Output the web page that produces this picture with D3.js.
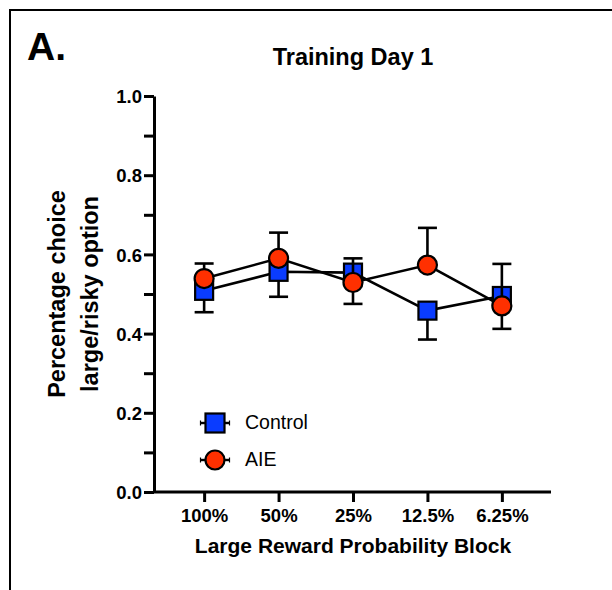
<!DOCTYPE html>
<html>
<head>
<meta charset="utf-8">
<script src="https://cdn.jsdelivr.net/npm/d3@7"></script>
<style>
  html, body { margin: 0; padding: 0; background: #fff; }
  svg { display: block; font-family: "Liberation Sans", Arial, Helvetica, sans-serif; }
</style>
</head>
<body>
<svg id="chart" width="612" height="590"></svg>
<script>
// Probability blocks on the x axis
const blocks = ["100%", "50%", "25%", "12.5%", "6.25%"];

// Mean proportion of large/risky choices per block
const controlMeans = [0.508, 0.556, 0.554, 0.458, 0.495];
const aieMeans     = [0.539, 0.590, 0.529, 0.573, 0.470];

// SEM (Control drawn below its mean, AIE drawn above)
const controlSem = [0.054, 0.063, 0.079, 0.073, 0.083];
const aieSem     = [0.038, 0.065, 0.061, 0.094, 0.106];

// Axis ticks
const yMajorTicks = [0, 0.2, 0.4, 0.6, 0.8, 1.0];
const yMinorTicks = [0.1, 0.3, 0.5, 0.7, 0.9];

const series = [
  { name: "Control", means: controlMeans, sem: controlSem, dir: 1,  shape: "square", fill: "#0a3cff" },
  { name: "AIE",     means: aieMeans,     sem: aieSem,     dir: -1, shape: "circle", fill: "#ff3000" }
];

const svg = d3.select("#chart");

// Panel frame (open at right and bottom)
svg.append("rect")
  .attr("x", 10).attr("y", 10)
  .attr("width", 640).attr("height", 620)
  .attr("fill", "none").attr("stroke", "#000").attr("stroke-width", 2);

const x = d3.scalePoint().domain(blocks).range([155, 551]).padding(0.66);
const y = d3.scaleLinear().domain([0, 1]).range([492, 96]);

// Y axis: major ticks with labels, minor ticks without
const yAxis = svg.append("g").attr("transform", "translate(154,0)")
  .call(d3.axisLeft(y).tickValues(yMajorTicks).tickFormat(d3.format(".1f")).tickSize(10).tickSizeOuter(0).tickPadding(2));
svg.append("g").attr("transform", "translate(154,0)")
  .call(d3.axisLeft(y).tickValues(yMinorTicks).tickFormat("").tickSize(10).tickSizeOuter(0))
  .select(".domain").remove();

// X axis
const xAxis = svg.append("g").attr("transform", "translate(0,492)")
  .call(d3.axisBottom(x).tickSize(10).tickSizeOuter(0).tickPadding(7));
xAxis.select(".domain").attr("d", "M154,0H551");

svg.selectAll(".tick line").attr("stroke", "#000").attr("stroke-width", 3);
svg.selectAll(".domain").attr("stroke", "#000").attr("stroke-width", 3);
svg.selectAll(".tick text")
  .attr("fill", "#000")
  .style("font-size", "18.5px")
  .style("font-weight", "bold");
yAxis.selectAll(".tick text").attr("dy", "0.36em");

// Panel letter and title
svg.append("text").attr("x", 27).attr("y", 60)
  .style("font-size", "39px").style("font-weight", "bold").text("A.");
svg.append("text").attr("x", 353).attr("y", 65).attr("text-anchor", "middle")
  .style("font-size", "23.5px").style("font-weight", "bold").text("Training Day 1");

// Axis titles
svg.append("text").attr("x", 353).attr("y", 553).attr("text-anchor", "middle")
  .style("font-size", "21px").style("font-weight", "bold").text("Large Reward Probability Block");
const yTitle = svg.append("text")
  .attr("transform", "translate(0,294) rotate(-90)")
  .attr("text-anchor", "middle")
  .style("font-size", "23.5px").style("font-weight", "bold");
yTitle.append("tspan").attr("x", 0).attr("y", 65).text("Percentage choice");
yTitle.append("tspan").attr("x", 0).attr("y", 98).text("large/risky option");

const line = d3.line().x((d, i) => x(blocks[i])).y(d => y(d));

function drawMarker(g, shape, cx, cy, fill, size) {
  if (shape === "square") {
    g.append("rect")
      .attr("x", cx - size / 2).attr("y", cy - size / 2)
      .attr("width", size).attr("height", size)
      .attr("fill", fill).attr("stroke", "#000").attr("stroke-width", 2.2);
  } else {
    g.append("circle")
      .attr("cx", cx).attr("cy", cy).attr("r", size / 2)
      .attr("fill", fill).attr("stroke", "#000").attr("stroke-width", 2.2);
  }
}

// Each series: connecting line, one-sided SEM bars, markers
series.forEach(s => {
  const g = svg.append("g");
  g.append("path").datum(s.means).attr("d", line)
    .attr("fill", "none").attr("stroke", "#000").attr("stroke-width", 2.6);

  s.means.forEach((m, i) => {
    const cx = x(blocks[i]);
    const yEnd = y(m - s.dir * s.sem[i]);
    g.append("line").attr("x1", cx).attr("x2", cx)
      .attr("y1", y(m)).attr("y2", yEnd)
      .attr("stroke", "#000").attr("stroke-width", 2.6);
    g.append("line").attr("x1", cx - 9.5).attr("x2", cx + 9.5)
      .attr("y1", yEnd).attr("y2", yEnd)
      .attr("stroke", "#000").attr("stroke-width", 2.6);
  });

  s.means.forEach((m, i) => {
    drawMarker(g, s.shape, x(blocks[i]), y(m), s.fill, s.shape === "square" ? 18 : 19);
  });
});

// Legend
const legend = svg.append("g");
series.forEach((s, i) => {
  const cy = 423 + i * 37;
  legend.append("line").attr("x1", 200).attr("x2", 230).attr("y1", cy).attr("y2", cy)
    .attr("stroke", "#000").attr("stroke-width", 2.4);
  [200.5, 229.5].forEach(ex => legend.append("line")
    .attr("x1", ex).attr("x2", ex).attr("y1", cy - 2.5).attr("y2", cy + 2.5)
    .attr("stroke", "#000").attr("stroke-width", 1.2));
  drawMarker(legend, s.shape, 215, cy, s.fill, 19);
  legend.append("text").attr("x", 245).attr("y", cy + 6)
    .style("font-size", "19.5px").text(s.name);
});
</script>
</body>
</html>
